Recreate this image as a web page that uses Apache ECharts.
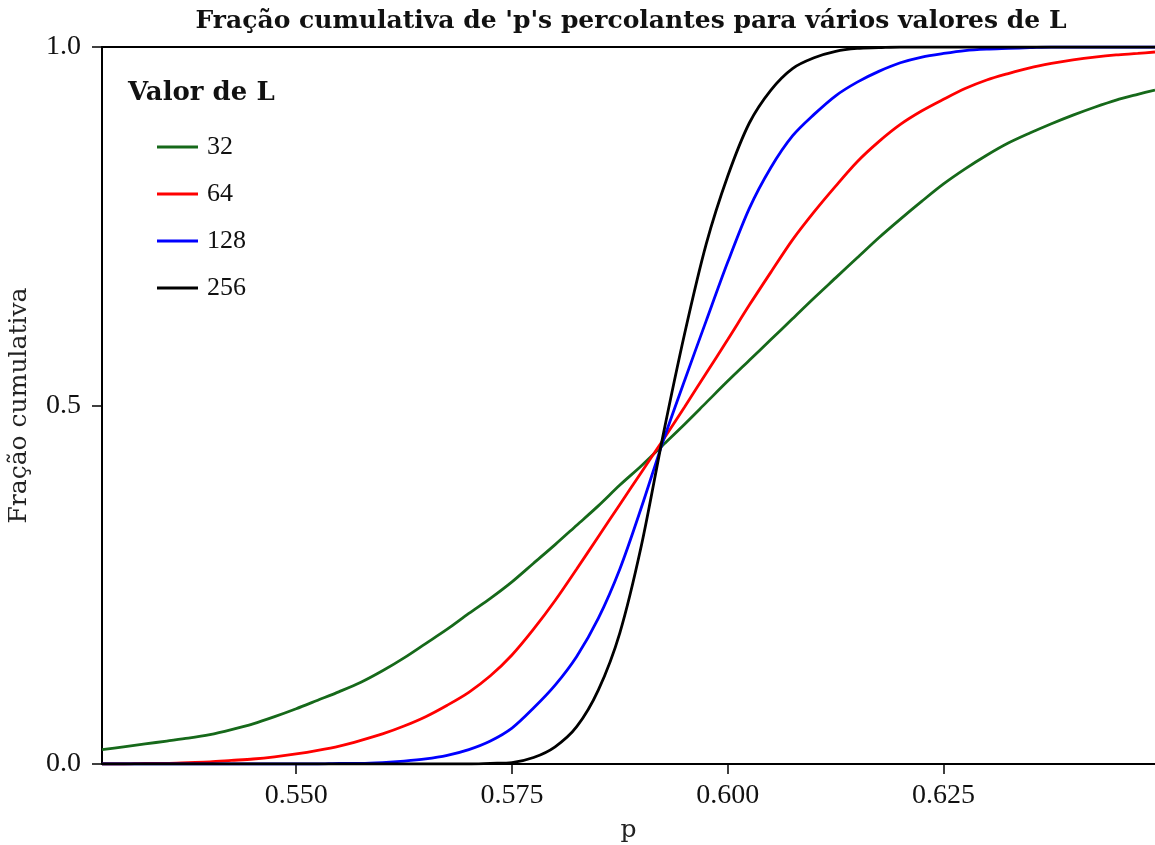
<!DOCTYPE html>
<html>
<head>
<meta charset="utf-8">
<script src="https://cdn.jsdelivr.net/npm/echarts@6/dist/echarts.min.js"></script>
<style>
  html, body { margin: 0; padding: 0; background: #fff; }
  #chart { width: 1155px; height: 845px; }
</style>
</head>
<body>
<div id="chart"></div>
<script>
// valores de p (eixo x)
const pValues = [
  0.5275, 0.5300, 0.5325, 0.5350, 0.5375, 0.5400, 0.5425, 0.5450, 0.5475, 0.5500,
  0.5525, 0.5550, 0.5575, 0.5600, 0.5625, 0.5650, 0.5675, 0.5700, 0.5725, 0.5750,
  0.5775, 0.5800, 0.5825, 0.5850, 0.5875, 0.5900, 0.5925, 0.5950, 0.5975, 0.6000,
  0.6025, 0.6050, 0.6075, 0.6100, 0.6125, 0.6150, 0.6175, 0.6200, 0.6225, 0.6250,
  0.6275, 0.6300, 0.6325, 0.6350, 0.6375, 0.6400, 0.6425, 0.6450, 0.6475, 0.6495
]

// fração cumulativa para cada L
const frac32 = [
  0.020, 0.024, 0.028, 0.032, 0.036, 0.041, 0.048, 0.056, 0.066, 0.077,
  0.089, 0.101, 0.114, 0.130, 0.148, 0.168, 0.188, 0.210, 0.231, 0.254,
  0.280, 0.306, 0.333, 0.360, 0.389, 0.416, 0.445, 0.474, 0.504, 0.534,
  0.563, 0.592, 0.621, 0.650, 0.678, 0.706, 0.734, 0.760, 0.785, 0.809,
  0.830, 0.849, 0.866, 0.880, 0.893, 0.905, 0.916, 0.926, 0.934, 0.940
]
const frac64 = [
  0.000, 0.000, 0.001, 0.001, 0.002, 0.003, 0.005, 0.007, 0.010, 0.014,
  0.019, 0.025, 0.033, 0.042, 0.053, 0.066, 0.082, 0.100, 0.123, 0.152,
  0.188, 0.228, 0.272, 0.317, 0.362, 0.407, 0.452, 0.498, 0.545, 0.592,
  0.640, 0.686, 0.731, 0.770, 0.806, 0.840, 0.868, 0.892, 0.911, 0.927,
  0.942, 0.954, 0.963, 0.971, 0.977, 0.982, 0.986, 0.989, 0.991, 0.993
]
const frac128 = [
  0.000, 0.000, 0.000, 0.000, 0.000, 0.000, 0.000, 0.000, 0.000, 0.000,
  0.000, 0.001, 0.001, 0.002, 0.004, 0.007, 0.012, 0.020, 0.032, 0.050,
  0.078, 0.110, 0.150, 0.203, 0.272, 0.358, 0.450, 0.535, 0.618, 0.700,
  0.775, 0.832, 0.876, 0.906, 0.932, 0.951, 0.966, 0.978, 0.986, 0.991,
  0.995, 0.997, 0.998, 0.999, 1.000, 1.000, 1.000, 1.000, 1.000, 1.000
]
const frac256 = [
  0.000, 0.000, 0.000, 0.000, 0.000, 0.000, 0.000, 0.000, 0.000, 0.000,
  0.000, 0.000, 0.000, 0.000, 0.000, 0.000, 0.000, 0.000, 0.001, 0.002,
  0.009, 0.024, 0.052, 0.103, 0.183, 0.305, 0.458, 0.600, 0.725, 0.820,
  0.894, 0.940, 0.970, 0.985, 0.994, 0.998, 0.999, 1.000, 1.000, 1.000,
  1.000, 1.000, 1.000, 1.000, 1.000, 1.000, 1.000, 1.000, 1.000, 1.000
]

const lValues = ['32', '64', '128', '256']
const lColors = ['#16691a', '#ff0000', '#0000ff', '#000000']
const xTicks = [0.550, 0.575, 0.600, 0.625]

const numFont = '"Liberation Serif", serif'
const wordFont = '"DejaVu Serif", serif'
const allFracs = [frac32, frac64, frac128, frac256]

let myEcharts = echarts.init(document.getElementById('chart'))
let option = {
  backgroundColor: '#fff',
  animation: false,
  grid: { left: 102, right: 0, top: 47, bottom: 81, outerBoundsMode: 'none', containLabel: false },
  graphic: [
    {
      type: 'text', x: 631, y: 9,
      style: { text: "Fração cumulativa de 'p's percolantes para vários valores de L",
        font: 'bold 25px ' + wordFont, fill: '#111', textAlign: 'center' }
    },
    {
      type: 'text', x: 128, y: 80,
      style: { text: 'Valor de L', font: 'bold 26px ' + wordFont, fill: '#111' }
    }
  ],
  legend: {
    orient: 'vertical',
    left: 152, top: 129,
    icon: 'rect',
    itemWidth: 41, itemHeight: 3,
    itemGap: 21,
    textStyle: { fontFamily: numFont, fontSize: 26, color: '#111', padding: [0, 0, 0, 4] },
    data: lValues
  },
  xAxis: [
    {
      type: 'value',
      min: 0.5275, max: 0.6495,
      name: 'p', nameLocation: 'middle', nameGap: 54,
      nameTextStyle: { fontFamily: wordFont, fontSize: 25, color: '#222' },
      axisLine: { show: true, lineStyle: { color: '#000', width: 2 } },
      axisTick: { show: true, length: 10, lineStyle: { color: '#000', width: 1.5 }, customValues: xTicks },
      axisLabel: { fontFamily: numFont, fontSize: 28, color: '#111', margin: 18,
        customValues: xTicks, formatter: v => v.toFixed(3) },
      splitLine: { show: false }
    },
    {
      // linha superior do painel
      type: 'value', position: 'top',
      min: 0.5275, max: 0.6495,
      axisLine: { show: true, onZero: false, lineStyle: { color: '#000', width: 2 } },
      axisTick: { show: false },
      axisLabel: { show: false },
      splitLine: { show: false }
    }
  ],
  yAxis: {
    type: 'value',
    min: 0, max: 1, interval: 0.5,
    name: 'Fração cumulativa', nameLocation: 'middle', nameGap: 70, nameRotate: 90,
    nameTextStyle: { fontFamily: wordFont, fontSize: 25, color: '#222' },
    axisLine: { show: true, lineStyle: { color: '#000', width: 2 } },
    axisTick: { show: true, length: 10, lineStyle: { color: '#000', width: 1.5 } },
    axisLabel: { fontFamily: numFont, fontSize: 28, color: '#111', margin: 21,
      formatter: v => v.toFixed(1) },
    splitLine: { show: false }
  },
  series: lValues.map((name, k) => ({
    name: name,
    type: 'line',
    xAxisIndex: 0,
    symbol: 'none',
    smooth: 0.3,
    itemStyle: { color: lColors[k] },
    lineStyle: { color: lColors[k], width: 2.8 },
    data: pValues.map((p, i) => [p, allFracs[k][i]])
  }))
}
option && myEcharts.setOption(option)
</script>
</body>
</html>
